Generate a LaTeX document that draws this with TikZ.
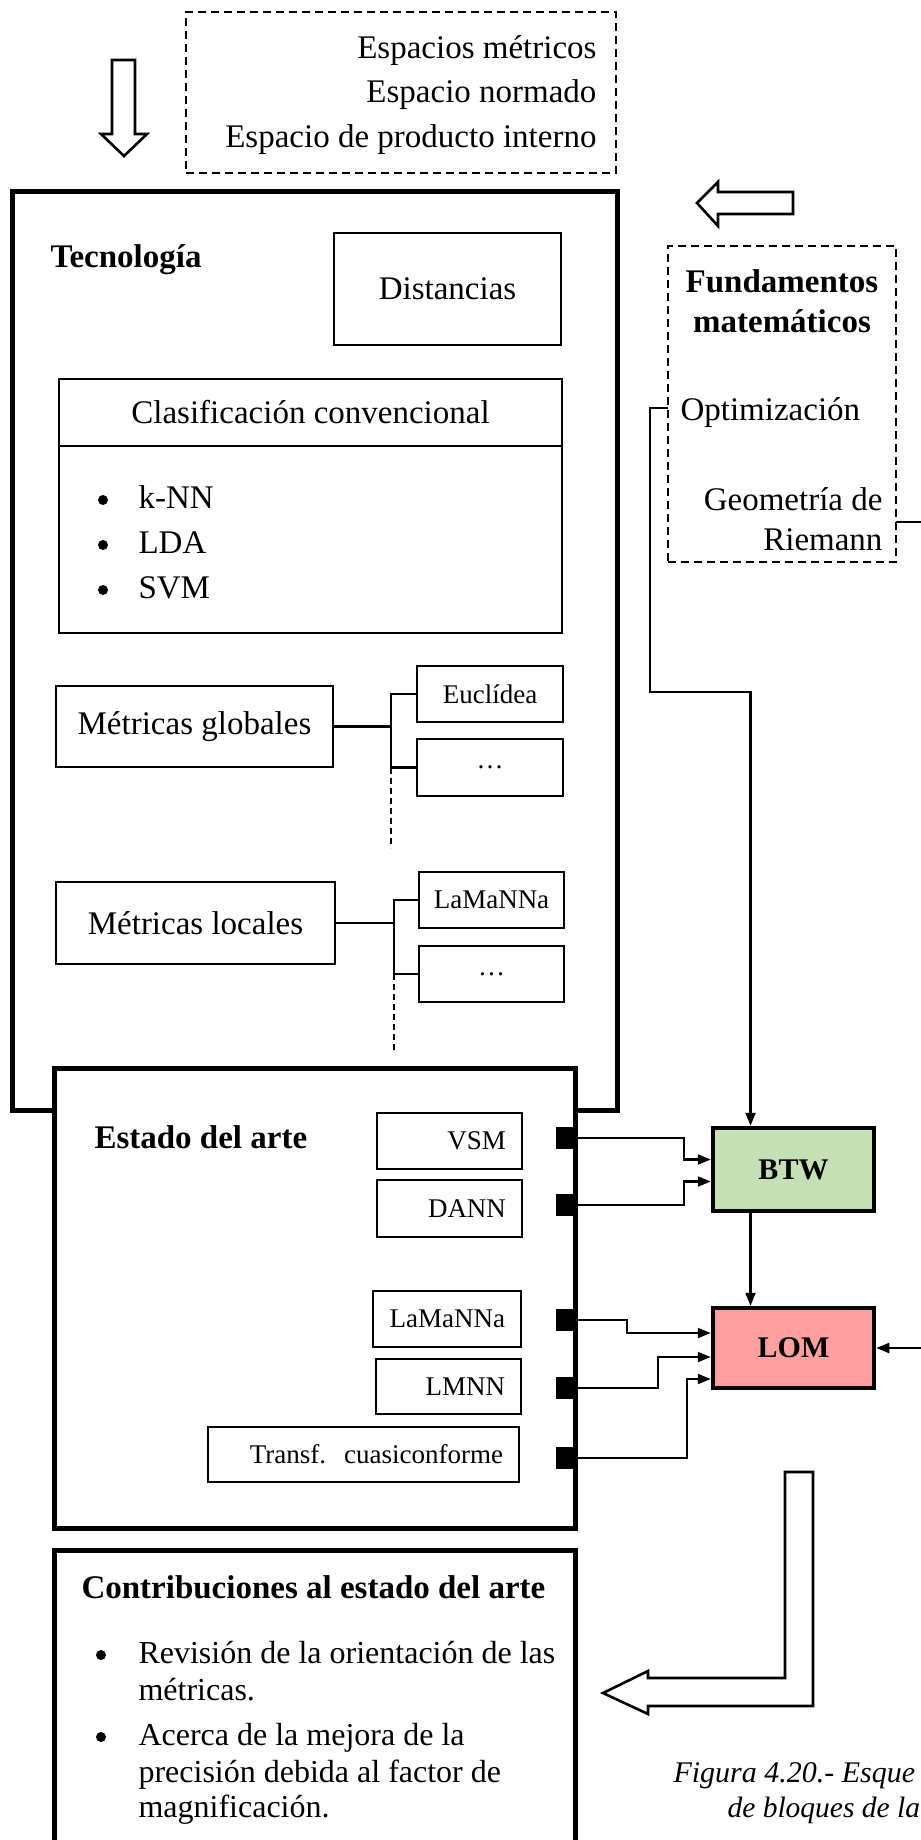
\documentclass[tikz,border=0pt]{standalone}
\usepackage{fontspec}
\setmainfont{Liberation Serif}
\usetikzlibrary{positioning, arrows.meta, calc}

\definecolor{btwgreen}{RGB}{197,224,180}
\definecolor{lompink}{RGB}{255,160,160}

\begin{document}
\begin{tikzpicture}[
        x=1pt, y=-1pt,
        font=\fontsize{33}{40}\selectfont,
        >={Triangle[length=13pt, width=10pt]},
        wire/.style={line width=2.2pt},
        flow/.style={wire, ->},
        trunk/.style={line width=1.4pt, dash pattern=on 6pt off 4pt},
        bigframe/.style={draw, line width=5pt, fill=white, outer sep=0pt, inner sep=0pt, anchor=north west},
        block/.style={draw, line width=1.8pt, outer sep=0pt, inner sep=0pt, anchor=north west},
        smallblock/.style={block, font=\fontsize{27}{32}\selectfont},
        artbox/.style={smallblock, inner xsep=16pt, align=right},
        dashframe/.style={draw, line width=1.6pt, dash pattern=on 8pt off 5pt, outer sep=0pt, anchor=north west},
        stage/.style={draw, line width=4.5pt, font=\bfseries\fontsize{30}{36}\selectfont, minimum width=161pt, minimum height=83pt},
        port/.style={fill=black, minimum width=21pt, minimum height=22pt, inner sep=0pt},
        dot/.style={circle, fill=black, minimum size=10pt, inner sep=0pt},
        hollow/.style={draw, line width=2.6pt, line join=miter, fill=white},
        heading/.style={font=\bfseries\fontsize{33}{40}\selectfont, anchor=base west},
        entry/.style={anchor=base west},
    ]
    \useasboundingbox (0,0) rectangle (921,1840);

    % Draw the spaces box and the arrow going down
    \node[dashframe, minimum width=430pt, minimum height=161pt] (espacios) at (186,12) {};
    \foreach \txt/\y [count=\i] in {Espacios métricos/58, Espacio normado/102, Espacio de producto interno/147}
        \node[anchor=base east] (esp-\i) at (600,\y) {\txt};
    \draw[hollow] (112,60) -- (135,60) -- (135,134) -- (147,134) -- (124,156) -- (101,134) -- (112,134) -- cycle;

    % Draw the technology block
    \node[bigframe, minimum width=605pt, minimum height=919pt] (tec) at (12,191) {};
    \node[heading] (tecname) at (47,267) {Tecnología};
    \node[block, minimum width=227pt, minimum height=112pt] (dist) at (334,233) {Distancias};

    \node[block, minimum width=503pt, minimum height=67pt] (clashead) at (59,379) {Clasificación convencional};
    \node[block, minimum width=503pt, minimum height=187pt] (clasbody) at (59,446) {};
    \foreach \txt/\y [count=\i] in {k-NN/508, LDA/553, SVM/598} {
        \node[dot] (cb-\i) at (103,\y-8) {};
        \node[entry] (ct-\i) at (135,\y) {\txt};
    }

    % Global metrics and their branches
    \node[block, minimum width=277pt, minimum height=81pt] (glob) at (56,686) {Métricas globales};
    \node[smallblock, minimum width=146pt, minimum height=56pt] (eucl) at (417,666) {Euclídea};
    \node[smallblock, minimum width=146pt, minimum height=57pt] (globmore) at (417,739) {\dots};
    \draw[wire] (glob.east) -- ++(58,0);
    \draw[wire] (eucl.west) -- ++(-26,0) |- (globmore.west);
    \draw[trunk] ([xshift=-26pt]globmore.west) -- ++(0,80);

    % Local metrics and their branches
    \node[block, minimum width=279pt, minimum height=82pt] (loc) at (56,882) {Métricas locales};
    \node[smallblock, minimum width=145pt, minimum height=56pt] (lama) at (419,872) {LaMaNNa};
    \node[smallblock, minimum width=145pt, minimum height=56pt] (locmore) at (419,946) {\dots};
    \draw[wire] (loc.east) -- ++(59,0);
    \draw[wire] (lama.west) -- ++(-25,0) |- (locmore.west);
    \draw[trunk] ([xshift=-25pt]locmore.west) -- ++(0,79);

    % Draw the state of the art block over it
    \node[bigframe, minimum width=521pt, minimum height=460pt] (estado) at (54,1068) {};
    \node[heading] (estname) at (91,1148) {Estado del arte};
    \foreach \name/\txt/\x/\y/\w/\h/\tw in {vsm/VSM/377/1113/145/56/113, dann/DANN/377/1180/145/57/113,
            lama2/LaMaNNa/373/1291/148/56/116, lmnn/LMNN/376/1359/145/55/113,
            qc/{Transf.~~cuasiconforme}/208/1427/311/55/279}
        \node[artbox, minimum width=\w pt, minimum height=\h pt, text width=\tw pt] (\name) at (\x,\y) {\txt};
    \foreach \i/\y in {1/1138, 2/1205, 3/1320, 4/1388, 5/1458}
        \node[port] (p\i) at (566,\y) {};

    % Mathematical foundations
    \draw[hollow] (793,192) -- (718,192) -- (718,182) -- (697,203) -- (718,226) -- (718,214) -- (793,214) -- cycle;
    \node[dashframe, minimum width=228pt, minimum height=316pt] (fund) at (668,246) {};
    \node[anchor=base, font=\bfseries\fontsize{33}{40}\selectfont] (fund-1) at (782,292) {Fundamentos};
    \node[anchor=base, font=\bfseries\fontsize{33}{40}\selectfont] (fund-2) at (782,332) {matemáticos};
    \node[entry] (opt) at (677,420) {Optimización};
    \node[anchor=base east] (geo-1) at (886,510) {Geometría de};
    \node[anchor=base east] (geo-2) at (886,550) {Riemann};

    % The two methods
    \node[stage, fill=btwgreen] (btw) at (793.5,1169.5) {BTW};
    \node[stage, fill=lompink, minimum height=80pt] (lom) at (793.5,1348) {LOM};

    % Connect the ports with the methods
    \draw[flow] (p1.east) -- ++(107,0) |- ([yshift=10pt]btw.west);
    \draw[flow] (p2.east) -- ++(107,0) |- ([yshift=-12pt]btw.west);
    \draw[flow] (p3.east) -- ++(50,0) |- ([yshift=15pt]lom.west);
    \draw[flow] (p4.east) -- ++(81,0) |- ([yshift=-9pt]lom.west);
    \draw[flow] (p5.east) -- ++(110,0) |- ([yshift=-31pt]lom.west);
    \draw[flow] ([xshift=-43pt]btw.south) -- ([xshift=-43pt]lom.north);
    \draw[flow] ([yshift=-4pt]fund.west) -- ++(-18,0) -- ++(0,284) -| ([xshift=-43pt]btw.north);
    \draw[flow] ([yshift=-118pt]fund.east) -- ++(40,0) |- (lom.east);

    % Contributions
    \draw[hollow] (785,1472) -- (813,1472) -- (813,1706) -- (648,1706) -- (648,1714) -- (603,1693) -- (648,1671) -- (648,1678) -- (785,1678) -- cycle;
    \node[bigframe, minimum width=521pt, minimum height=330pt] (contrib) at (54,1550) {};
    \node[heading] (contname) at (78,1598) {Contribuciones al estado del arte};
    \node[dot] (cbul-1) at (101,1655) {};
    \node[dot] (cbul-2) at (101,1737) {};
    \foreach \txt/\y [count=\i] in {Revisión de la orientación de las/1663, métricas./1700,
            Acerca de la mejora de la/1745, precisión debida al factor de/1782, magnificación./1817}
        \node[entry, font=\fontsize{32}{37}\selectfont] (cl-\i) at (135,\y) {\txt};

    % Caption
    \node[entry, font=\itshape\fontsize{30}{36}\selectfont] (cap-1) at (670,1782) {Figura 4.20.- Esque};
    \node[entry, font=\itshape\fontsize{29.5}{36}\selectfont] (cap-2) at (724,1817) {de bloques de la};
\end{tikzpicture}
\end{document}
